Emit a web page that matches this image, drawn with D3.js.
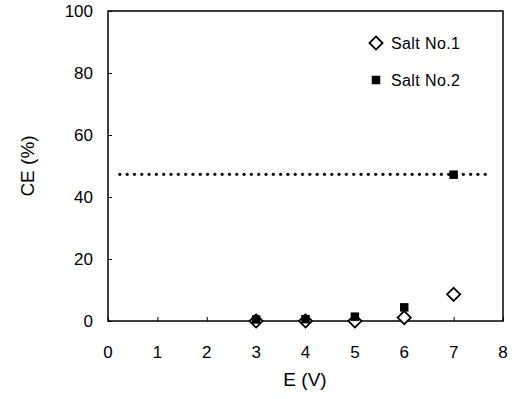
<!DOCTYPE html>
<html><head><meta charset="utf-8">
<script src="https://cdn.jsdelivr.net/npm/d3@7"></script>
<style>body{margin:0;background:#fff}svg{display:block}text{font-family:"Liberation Sans",Arial,sans-serif;fill:#000}</style>
</head><body><svg id="c" width="515" height="399"></svg>
<script>
const voltages = [3, 4, 5, 6, 7];
const salt1 = [0, 0, 0, 1.1, 8.6];
const salt2 = [0.5, 0.6, 1.4, 4.4, 47.2];
const dottedLevel = 47.3;
const dottedRange = [0.24, 7.7];
const xTicks = [0, 1, 2, 3, 4, 5, 6, 7, 8];
const yTicks = [0, 20, 40, 60, 80, 100];
const seriesNames = ["Salt No.1", "Salt No.2"];

const svg = d3.select("#c");
const x = d3.scaleLinear().domain([0, 8]).range([108, 503]);
const y = d3.scaleLinear().domain([0, 100]).range([321, 11]);

// dotted line
const dx = [];
for (let v = dottedRange[0]; v <= dottedRange[1]; v += 0.148) dx.push(v);
svg.append("g").selectAll("circle").data(dx).join("circle")
  .attr("cx", d => x(d)).attr("cy", y(dottedLevel)).attr("r", 1.6).attr("fill", "#000");

// frame
svg.append("rect").attr("x", x(0)).attr("y", y(100)).attr("width", x(8) - x(0)).attr("height", y(0) - y(100))
  .attr("fill", "none").attr("stroke", "#000").attr("stroke-width", 1.5);

// axes
const yAxis = d3.axisRight(y).tickValues(yTicks).tickSize(4).tickFormat("");
const yg = svg.append("g").attr("transform", `translate(${x(0)},0)`).call(yAxis);
yg.select(".domain").remove();
yg.selectAll("line").attr("stroke", "#000");
const xAxis = d3.axisTop(x).tickValues(xTicks).tickSize(4).tickFormat("");
const xg = svg.append("g").attr("transform", `translate(0,${y(0)})`).call(xAxis);
xg.select(".domain").remove();
xg.selectAll("line").attr("stroke", "#000");

svg.append("g").selectAll("text").data(yTicks).join("text")
  .attr("x", 93).attr("y", d => y(d) + 6).attr("text-anchor", "end").attr("font-size", 17).text(d => d);
svg.append("g").selectAll("text").data(xTicks).join("text")
  .attr("x", d => x(d)).attr("y", 358).attr("text-anchor", "middle").attr("font-size", 17).text(d => d);

svg.append("text").attr("x", 305).attr("y", 386).attr("text-anchor", "middle").attr("font-size", 19).text("E (V)");
svg.append("text").attr("transform", `translate(34,${(y(0)+y(100))/2}) rotate(-90)`)
  .attr("text-anchor", "middle").attr("font-size", 19).text("CE (%)");

// markers
const diamond = d3.symbol().type(d3.symbolDiamond2).size(110);
const square = d3.symbol().type(d3.symbolSquare).size(72);
svg.append("g").selectAll("path").data(voltages.map((v, i) => [v, salt1[i]])).join("path")
  .attr("transform", d => `translate(${x(d[0])},${y(d[1])})`).attr("d", diamond)
  .attr("fill", "#fff").attr("stroke", "#000").attr("stroke-width", 1.8);
svg.append("g").selectAll("path").data(voltages.map((v, i) => [v, salt2[i]])).join("path")
  .attr("transform", d => `translate(${x(d[0])},${y(d[1])})`).attr("d", square).attr("fill", "#000");

// legend
svg.append("path").attr("transform", "translate(376,43)").attr("d", diamond)
  .attr("fill", "#fff").attr("stroke", "#000").attr("stroke-width", 1.8);
svg.append("path").attr("transform", "translate(376,80)").attr("d", square).attr("fill", "#000");
svg.append("text").attr("x", 391).attr("y", 49).attr("font-size", 16).attr("letter-spacing", 0.4).text(seriesNames[0]);
svg.append("text").attr("x", 391).attr("y", 86).attr("font-size", 16).attr("letter-spacing", 0.4).text(seriesNames[1]);
</script></body></html>
